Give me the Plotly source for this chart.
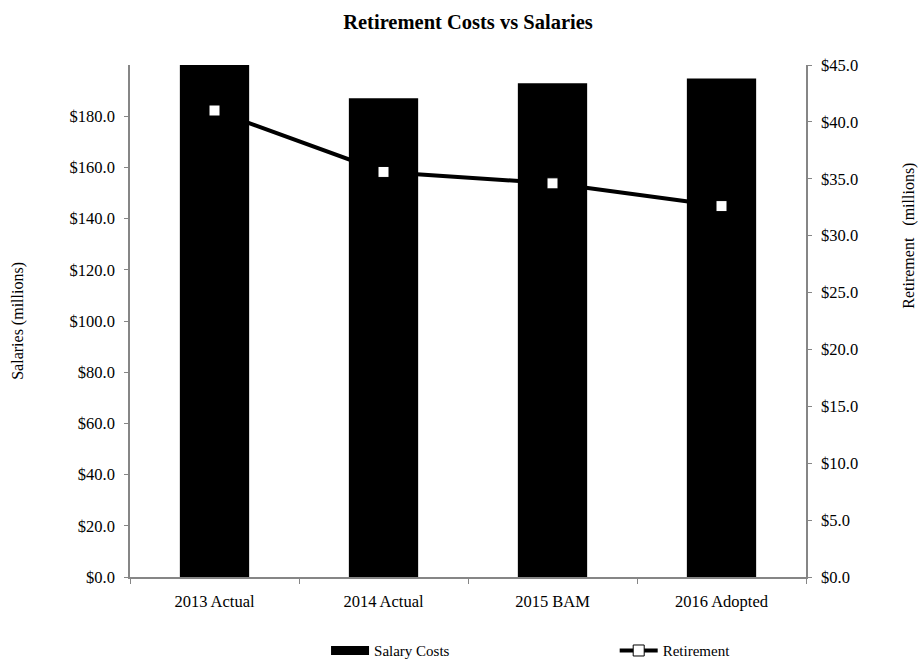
import plotly.graph_objects as go

# Budget years shown along the x axis
categories = ["2013 Actual", "2014 Actual", "2015 BAM", "2016 Adopted"]
# Salary costs, $ millions (left axis)
salary_costs = [201.5, 187.0, 192.9, 194.7]
# Retirement costs, $ millions (right axis)
retirement = [41.0, 35.6, 34.6, 32.6]

salary_ticks = [0, 20, 40, 60, 80, 100, 120, 140, 160, 180]
retirement_ticks = [0, 5, 10, 15, 20, 25, 30, 35, 40, 45]

FONT = "Liberation Serif"
AXIS_GREY = "#868686"


def money(v):
    return "$" + f"{v:.1f}"


fig = go.Figure()

fig.add_trace(go.Bar(
    x=categories, y=salary_costs, name="Salary Costs",
    marker=dict(color="black", line=dict(width=0)),
    yaxis="y", showlegend=False,
))

# Wide black swatch for the salary legend entry
fig.add_trace(go.Scatter(
    x=[None], y=[None], name="Salary Costs", mode="lines",
    line=dict(color="black", width=9),
    yaxis="y", legend="legend",
))

fig.add_trace(go.Scatter(
    x=categories, y=retirement, name="Retirement",
    mode="lines+markers",
    line=dict(color="black", width=4),
    marker=dict(symbol="square", size=11, color="white",
                line=dict(color="black", width=1)),
    yaxis="y2", legend="legend2",
))

legend_common = dict(
    orientation="h", yref="container", y=0.017, yanchor="middle",
    xanchor="left", itemwidth=38, bgcolor="rgba(0,0,0,0)",
    font=dict(family=FONT, size=15),
)

fig.update_layout(
    width=920, height=662,
    margin=dict(l=130, r=114, t=65, b=85, autoexpand=False),
    paper_bgcolor="white", plot_bgcolor="white",
    font=dict(family=FONT, color="black", size=16),
    title=dict(text="<b>Retirement Costs vs Salaries</b>",
               x=0.5, xref="paper", xanchor="center",
               y=0.967, yref="container", yanchor="middle",
               font=dict(family=FONT, size=20.5)),
    bargap=0.59,
    showlegend=True,
    legend=dict(x=0.29, **legend_common),
    legend2=dict(x=0.717, **legend_common),
    xaxis=dict(
        type="category",
        showline=True, linecolor=AXIS_GREY, linewidth=1.5,
        ticks="outside", tickson="boundaries", ticklen=5,
        tickcolor=AXIS_GREY, tickwidth=1,
        ticklabelstandoff=8,
        showgrid=False, zeroline=False,
        tickfont=dict(family=FONT, size=16.5),
    ),
    yaxis=dict(
        range=[0, 200],
        tickvals=salary_ticks,
        ticktext=[money(v) for v in salary_ticks],
        showline=True, linecolor=AXIS_GREY, linewidth=1.5,
        ticks="outside", ticklen=4, tickcolor=AXIS_GREY, tickwidth=1,
        ticklabelstandoff=6,
        showgrid=False, zeroline=False,
        tickfont=dict(family=FONT, size=16.5),
    ),
    yaxis2=dict(
        range=[0, 45],
        tickvals=retirement_ticks,
        ticktext=[money(v) for v in retirement_ticks],
        overlaying="y", side="right", anchor="x",
        showline=True, linecolor=AXIS_GREY, linewidth=1.5,
        ticks="outside", ticklen=4, tickcolor=AXIS_GREY, tickwidth=1,
        ticklabelstandoff=6,
        showgrid=False, zeroline=False,
        tickfont=dict(family=FONT, size=16.5),
    ),
    annotations=[
        dict(text="Salaries (millions)", textangle=-90,
             xref="paper", yref="paper", x=-0.166, y=0.5,
             xanchor="center", yanchor="middle", showarrow=False,
             font=dict(family=FONT, size=16)),
        dict(text="Retirement&nbsp;&nbsp;&nbsp;(millions)", textangle=-90,
             xref="paper", yref="paper", x=1.152, y=0.666,
             xanchor="center", yanchor="middle", showarrow=False,
             font=dict(family=FONT, size=16)),
    ],
)

fig.write_html("out.html")
